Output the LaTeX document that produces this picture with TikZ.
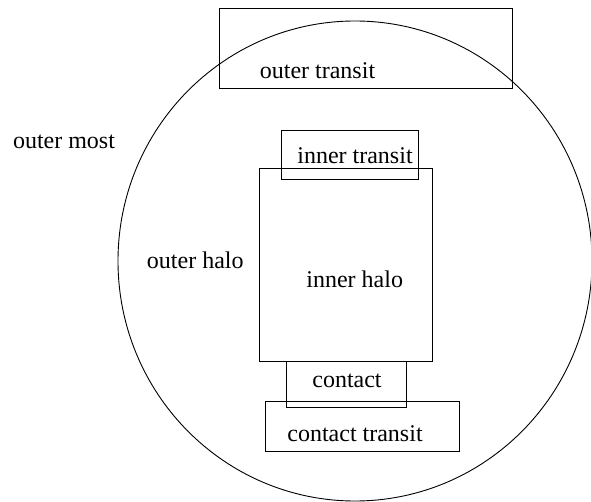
\documentclass[tikz,border=0pt]{standalone}
\usepackage{fontspec}
\setmainfont{Liberation Serif}
\usetikzlibrary{shapes.geometric}
\begin{document}
\begin{tikzpicture}[x=1pt,y=-1pt,
  region/.style={draw=black,line width=0.9pt,inner sep=0pt,outer sep=0pt},
  label/.style={anchor=base,inner sep=0pt,font=\fontsize{24}{28}\selectfont}]
\useasboundingbox (0,0) rectangle (591,502);
% outermost zone
\node[region,ellipse,minimum width=474,minimum height=480] (most) at (355,261) {};
% rectangular zones
\node[region,minimum width=293,minimum height=80] (otransit) at (365.5,48) {};
\node[region,minimum width=137,minimum height=49] (itransit) at (349.5,154.5) {};
\node[region,minimum width=173.5,minimum height=193] (ihalo) at (345.75,264.5) {};
\node[region,minimum width=120,minimum height=46.5] (contact) at (346,384.25) {};
\node[region,minimum width=193.5,minimum height=50.5] (ctransit) at (362.25,426.25) {};
% labels
\node[label] (lmost) at (64,148.3) {outer most};
\node[label] (lotransit) at (317.5,78.3) {outer transit};
\node[label] (litransit) at (355,163.3) {inner transit};
\node[label] (lohalo) at (195.3,268.3) {outer halo};
\node[label] (lihalo) at (354.7,287.3) {inner halo};
\node[label] (lcontact) at (347,387.3) {contact};
\node[label] (lctransit) at (355,441.7) {contact transit};
\end{tikzpicture}
\end{document}
